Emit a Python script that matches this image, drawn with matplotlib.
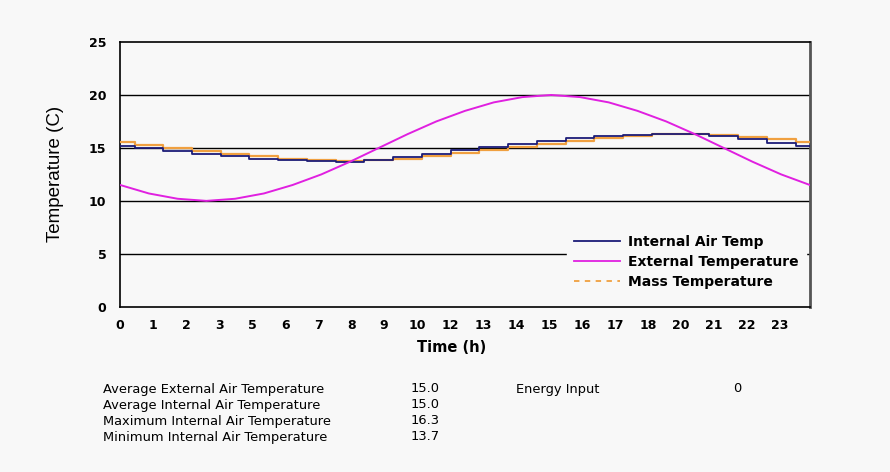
import numpy as np
import matplotlib
matplotlib.use('Agg')
import matplotlib.pyplot as plt
from matplotlib.lines import Line2D

plt.rcParams['font.family'] = ['DejaVu Sans']

# hourly readings (h = 0..24)
hours = list(range(25))
external = [11.5, 10.7, 10.2, 10.0, 10.2, 10.7, 11.5, 12.5, 13.7, 15.0, 16.3, 17.5, 18.5,
            19.3, 19.8, 20.0, 19.8, 19.3, 18.5, 17.5, 16.3, 15.0, 13.7, 12.5, 11.5]
internal = [15.2, 15.0, 14.7, 14.4, 14.2, 14.0, 13.9, 13.8, 13.7, 13.9, 14.1, 14.4, 14.8,
            15.1, 15.4, 15.7, 15.9, 16.1, 16.2, 16.3, 16.3, 16.1, 15.8, 15.5, 15.2]
mass = [15.6, 15.3, 15.0, 14.7, 14.4, 14.2, 14.0, 13.9, 13.8, 13.9, 14.0, 14.2, 14.5,
        14.8, 15.1, 15.4, 15.7, 15.9, 16.1, 16.3, 16.3, 16.2, 16.0, 15.8, 15.6]

xtick_labels = ['0', '1', '2', '3', '5', '6', '7', '8', '9', '10', '12', '13', '14',
                '15', '16', '17', '18', '20', '21', '22', '23']

stat_names = ['Average External Air Temperature', 'Average Internal Air Temperature',
              'Maximum Internal Air Temperature', 'Minimum Internal Air Temperature']
stat_values = ['15.0', '15.0', '16.3', '13.7']
energy_label = 'Energy Input'
energy_value = '0'

bg = '#f8f8f8'
c_int = '#1c1c78'
c_ext = '#e020e0'
c_mass = '#f0a040'

fig = plt.figure(figsize=(8.9, 4.72), dpi=100, facecolor=bg)
ax = fig.add_axes([0.135, 0.35, 0.775, 0.561], facecolor=bg)

ax.set_xlim(0, 24)
ax.set_ylim(0, 25)
for yv in [5, 10, 15, 20]:
    ax.axhline(yv, color='black', lw=1.0, zorder=1)

ax.plot(hours, mass, color=c_mass, lw=1.6, drawstyle='steps-mid', zorder=3)
ax.plot(hours, internal, color=c_int, lw=1.3, drawstyle='steps-mid', zorder=3)
ax.plot(hours, external, color=c_ext, lw=1.4, zorder=4)

for s in ax.spines.values():
    s.set_color('black')
    s.set_linewidth(1.2)
ax.spines['right'].set_color('#555555')
ax.spines['right'].set_linewidth(2)

ax.set_yticks([0, 5, 10, 15, 20, 25])
ax.set_xticks(np.arange(len(xtick_labels)) * 1.148)
ax.set_xticklabels(xtick_labels)
ax.tick_params(length=0, labelsize=9, pad=9)
for lab in ax.get_xticklabels() + ax.get_yticklabels():
    lab.set_fontweight('bold')
ax.tick_params(axis='y', pad=10)

ax.set_ylabel('Temperature (C)', fontsize=13.5, family='Liberation Sans', labelpad=18)
ax.set_xlabel('Time (h)', fontsize=10.5, fontweight='bold', labelpad=6)
ax.xaxis.set_label_coords(0.48, -0.125)

handles = [Line2D([], [], color=c_int, lw=1.3),
           Line2D([], [], color=c_ext, lw=1.3),
           Line2D([], [], color=c_mass, lw=1.3, ls=(0, (3, 3)))]
leg = ax.legend(handles, ['Internal Air Temp', 'External Temperature', 'Mass Temperature'],
                loc='lower right', bbox_to_anchor=(0.998, 0.03), frameon=True,
                facecolor=bg, edgecolor=bg, framealpha=1, fancybox=False,
                prop={'weight': 'bold', 'size': 10}, handlelength=3.3,
                labelspacing=0.45, borderpad=0.5, handletextpad=0.6, borderaxespad=0.2)
leg.set_zorder(5)

row_y = [389, 405, 421, 437]
for name, val, py in zip(stat_names, stat_values, row_y):
    fig.text(103 / 890, 1 - py / 472, name, fontsize=9.4, va='center', ha='left')
    fig.text(440 / 890, 1 - py / 472, val, fontsize=9.4, va='center', ha='right')
fig.text(516 / 890, 1 - row_y[0] / 472, energy_label, fontsize=9.4, va='center', ha='left')
fig.text(741 / 890, 1 - row_y[0] / 472, energy_value, fontsize=9.4, va='center', ha='right')

fig.savefig('out.png', dpi=100, facecolor=bg)
